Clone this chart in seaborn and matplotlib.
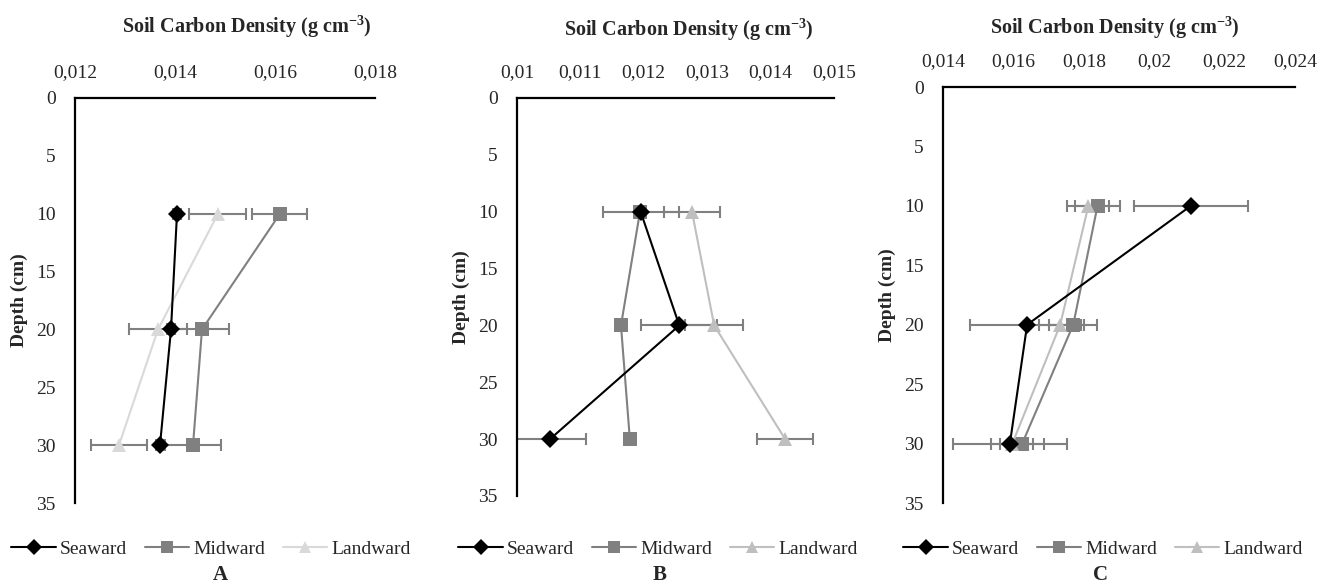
import numpy as np
import pandas as pd
import matplotlib.pyplot as plt
import matplotlib.ticker as mtick
from matplotlib.lines import Line2D
import seaborn as sns

# depth of each sample (cm)
depths = [10, 20, 30]
zones = ["Seaward", "Midward", "Landward"]

# panel A
seaward_a = [0.01404, 0.01392, 0.01370]
midward_a = [0.01610, 0.01454, 0.01436]
landward_a = [0.01486, 0.01366, 0.01288]
seaward_a_err = [0.00008, 0.00008, 0.00008]
midward_a_err = [0.00055, 0.00054, 0.00056]
landward_a_err = [0.00057, 0.00058, 0.00056]

# panel B
seaward_b = [0.01195, 0.01256, 0.01052]
midward_b = [0.01194, 0.01164, 0.01178]
landward_b = [0.01276, 0.01311, 0.01423]
seaward_b_err = [0.00060, 0.00060, 0.00057]
midward_b_err = [0.00008, 0.00008, 0.00008]
landward_b_err = [0.00044, 0.00046, 0.00044]

# panel C
seaward_c = [0.02104, 0.01639, 0.01590]
midward_c = [0.01839, 0.01770, 0.01625]
landward_c = [0.01813, 0.01733, 0.01597]
seaward_c_err = [0.00162, 0.00162, 0.00162]
midward_c_err = [0.00065, 0.00068, 0.00062]
landward_c_err = [0.00060, 0.00060, 0.00060]

sns.set_style("white")
plt.rcParams['font.family'] = ['Liberation Serif', 'DejaVu Serif']
plt.rcParams['mathtext.fontset'] = 'custom'
plt.rcParams['mathtext.rm'] = 'Liberation Serif'
plt.rcParams['mathtext.bf'] = 'Liberation Serif:bold'

markers = {"Seaward": "D", "Midward": "s", "Landward": "^"}
msizes = {"D": 9, "s": 10, "^": 10}
err_color = "#808080"


def fmt_comma(v, pos):
    s = ("%.3f" % v).rstrip('0').rstrip('.')
    return s.replace('.', ',')


def plot_panel(ax, vals, errs, xlim, xstep, landcol, title_xy, leg_x, letter_x, letter):
    palette = {"Seaward": "black", "Midward": "#808080", "Landward": landcol}
    rows = []
    for z, v in zip(zones, vals):
        for d, x in zip(depths, v):
            rows.append({"Zone": z, "Depth": d, "Density": x})
    df = pd.DataFrame(rows)

    for z, v, e in zip(zones, vals, errs):
        ax.errorbar(v, depths, xerr=e, fmt='none', ecolor=err_color,
                    elinewidth=1.5, capsize=4, capthick=1.5, zorder=1)
    n_err = len(ax.lines)

    sns.lineplot(data=df, x="Density", y="Depth", hue="Zone", style="Zone",
                 markers=markers, dashes=False, palette=palette, orient="y",
                 linewidth=1.5, ax=ax, legend=False, zorder=3)
    for ln in ax.lines[n_err:]:
        m = ln.get_marker()
        if m in msizes:
            ln.set_markersize(msizes[m])
        ln.set_markeredgecolor(ln.get_color())
        ln.set_markeredgewidth(0)
        if m == "D":
            ln.set_zorder(4)

    ax.set_xlim(*xlim)
    ax.set_ylim(35, 0)
    ax.set_xticks(np.arange(xlim[0], xlim[1] + xstep / 2, xstep))
    ax.set_yticks(range(0, 36, 5))
    ax.xaxis.set_major_formatter(mtick.FuncFormatter(fmt_comma))
    ax.xaxis.tick_top()
    ax.tick_params(axis='x', length=0, pad=12, labelsize=14)
    ax.tick_params(axis='y', length=0, pad=14, labelsize=14)
    for s in ["bottom", "right"]:
        ax.spines[s].set_visible(False)
    for s in ["top", "left"]:
        ax.spines[s].set_color("black")
        ax.spines[s].set_linewidth(1.6)

    ax.xaxis.set_label_position('top')
    ax.set_xlabel("Soil Carbon Density (g cm$\\mathbf{^{-3}}$)", fontsize=14.5, fontweight='bold')
    ax.xaxis.set_label_coords(*title_xy)
    ax.xaxis.label.set_va('center')
    ax.set_ylabel("Depth (cm)", fontsize=14, fontweight='bold', labelpad=6)

    handles = [Line2D([], [], color=palette[z], marker=markers[z], lw=1.5,
                      markersize=msizes[markers[z]] * 0.85, markeredgewidth=0)
               for z in zones]
    ax.legend(handles, zones, loc='center', bbox_to_anchor=(leg_x, 1 - 549 / 586),
              bbox_transform=fig.transFigure, ncol=3, frameon=False, fontsize=14,
              handlelength=2.3, handletextpad=0.2, columnspacing=0.9,
              borderpad=0, borderaxespad=0)
    fig.text(letter_x, 1 - 575 / 586, letter, ha='center', va='center',
             fontsize=15, fontweight='bold')


fig = plt.figure(figsize=(13.31, 5.86), dpi=100)
ax_a = fig.add_axes([75 / 1331, 1 - 503 / 586, 300 / 1331, 405 / 586])
ax_b = fig.add_axes([517 / 1331, 1 - 496 / 586, 317 / 1331, 398 / 586])
ax_c = fig.add_axes([943 / 1331, 1 - 503 / 586, 352 / 1331, 416 / 586])

plot_panel(ax_a, [seaward_a, midward_a, landward_a],
           [seaward_a_err, midward_a_err, landward_a_err],
           (0.012, 0.018), 0.002, "#d9d9d9", (0.573, 1.175), 211 / 1331, 220 / 1331, "A")
plot_panel(ax_b, [seaward_b, midward_b, landward_b],
           [seaward_b_err, midward_b_err, landward_b_err],
           (0.010, 0.015), 0.001, "#bfbfbf", (0.543, 1.171), 658 / 1331, 660 / 1331, "B")
plot_panel(ax_c, [seaward_c, midward_c, landward_c],
           [seaward_c_err, midward_c_err, landward_c_err],
           (0.014, 0.024), 0.002, "#bfbfbf", (0.489, 1.142), 1103 / 1331, 1100 / 1331, "C")

fig.savefig("out.png", dpi=100, facecolor="white")
